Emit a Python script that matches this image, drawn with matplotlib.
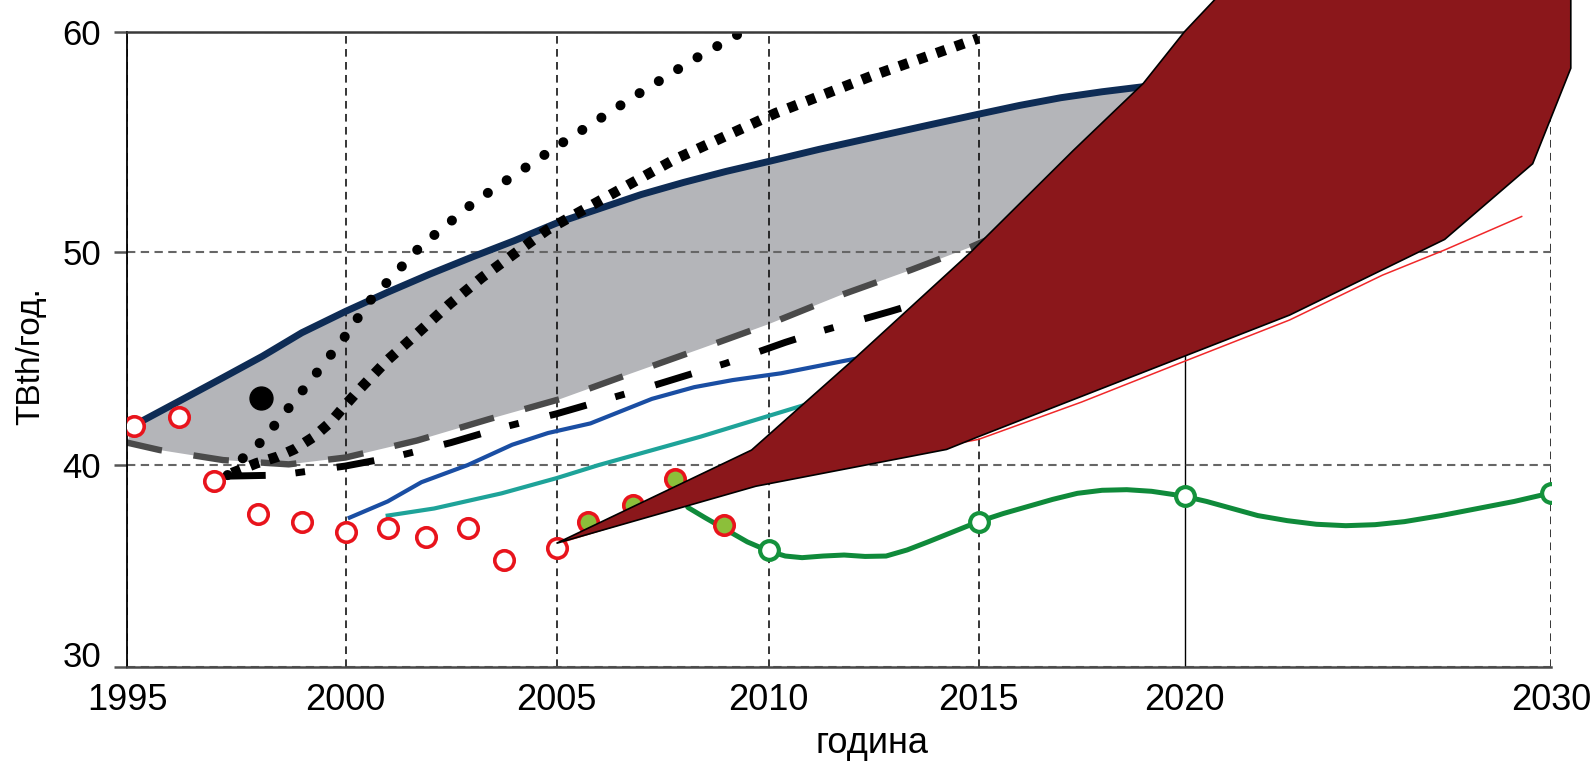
import numpy as np
import matplotlib.pyplot as plt

plt.rcParams['font.family'] = ['Liberation Sans', 'DejaVu Sans']

# the printed axes are not evenly spaced, so map years / values piecewise
x_years = [1990, 1995, 2000, 2005, 2010, 2015, 2020, 2030, 2040]
x_pos = [-91.5, 127, 345.5, 556.5, 768.5, 978.5, 1184.5, 1551, 1917.5]
y_vals = [20, 30, 40, 50, 60, 70]
y_pos = [-105.6, 96.7, 299, 512.3, 732.3, 952.3]

x_ticks = [1995, 2000, 2005, 2010, 2015, 2020, 2030]
y_ticks = [30, 40, 50, 60]

# historic consumption
hist_years = [1995.15, 1996.2, 1997.0, 1998.0, 1999.0, 2000.0, 2001.0, 2001.9, 2002.9, 2003.75, 2005.0]
hist_vals = [41.85, 42.25, 39.2, 37.6, 37.2, 36.7, 36.9, 36.45, 36.9, 35.3, 35.9]
recent_years = [2005.75, 2006.8, 2007.8, 2008.95]
recent_vals = [37.2, 38.0, 39.3, 37.05]
single_year = [1998.07]
single_val = [43.13]

# grey band: upper (navy) and lower (dashed) bounds
upper_years = [1995.15, 1996.2, 1997.2, 1998.1, 1999.0, 2000.0, 2001.0, 2002.0, 2003.0, 2004.0, 2005.0,
               2006.0, 2007.0, 2008.0, 2009.0, 2010.0, 2011.2, 2012.5, 2013.8, 2015.0, 2016.0, 2017.0,
               2018.0, 2019.0, 2020.5]
upper_vals = [41.85, 43.0, 44.1, 45.1, 46.2, 47.2, 48.1, 48.95, 49.75, 50.5, 51.3,
              51.95, 52.6, 53.15, 53.65, 54.1, 54.65, 55.2, 55.75, 56.25, 56.65, 57.0,
              57.27, 57.5, 57.8]
lower_years = [1995.0, 1995.75, 1997.2, 1998.7, 2000.0, 2001.7, 2003.4, 2005.1, 2006.7, 2008.4, 2010.0,
               2011.7, 2013.4, 2014.8, 2017.0, 2019.5]
lower_vals = [41.05, 40.7, 40.23, 40.03, 40.35, 41.15, 42.15, 43.1, 44.25, 45.45, 46.6,
              47.95, 49.15, 50.2, 52.0, 54.0]

# older forecasts
dotA_years = [1997.3, 1997.66, 1998.07, 1998.71, 1999.32, 1999.92, 2000.56, 2001.77, 2003.06, 2005.17,
              2006.87, 2008.2, 2009.3]
dotA_vals = [39.5, 40.34, 41.09, 42.7, 44.27, 45.83, 47.66, 50.23, 52.27, 54.99,
             57.1, 58.7, 59.9]
dotB_years = [1997.4, 1997.96, 1998.45, 1998.84, 1999.28, 1999.67, 1999.98, 2000.3, 2000.98, 2001.72,
              2002.47, 2003.24, 2004.01, 2004.78, 2006.05, 2007.76, 2010.16, 2012.46, 2015.0]
dotB_vals = [39.6, 40.08, 40.39, 40.75, 41.33, 42.03, 42.77, 43.48, 44.89, 46.2,
             47.55, 48.8, 49.92, 50.99, 52.35, 54.17, 56.29, 57.99, 59.7]
dd_years = [1997.3, 1998.5, 2000.0, 2001.2, 2002.5, 2003.7, 2005.0, 2007.0, 2009.0, 2010.4, 2011.2,
            2012.9, 2014.0]
dd_vals = [39.45, 39.5, 39.95, 40.4, 41.05, 41.75, 42.4, 43.55, 44.77, 45.75, 46.25,
           47.2, 47.85]
blue_years = [2000.1, 2001.0, 2001.8, 2002.9, 2003.95, 2004.8, 2005.8, 2007.25, 2008.25, 2009.15,
              2010.3, 2011.85, 2012.4]
blue_vals = [37.4, 38.2, 39.15, 40.0, 40.95, 41.5, 41.95, 43.1, 43.65, 43.98,
             44.3, 44.9, 45.1]
teal_years = [2001.0, 2002.1, 2003.7, 2005.0, 2006.0, 2008.4, 2010.6, 2011.0]
teal_vals = [37.5, 37.85, 38.6, 39.35, 40.0, 41.33, 42.66, 42.9]

# newer forecast
red_years = [2005.0, 2010.0, 2015.0, 2017.5, 2019.97, 2022.87, 2025.4, 2027.1, 2029.2]
red_vals = [36.1, 39.3, 41.2, 42.95, 44.84, 46.8, 48.9, 50.08, 51.6]
green_years = [2007.8, 2008.1, 2008.5, 2009.0, 2009.5, 2010.0, 2010.4, 2010.8, 2011.3, 2011.8, 2012.3,
               2012.8, 2013.3, 2013.8, 2014.4, 2015.0, 2015.6, 2016.2, 2016.8, 2017.4, 2018.0, 2018.6,
               2019.2, 2019.7, 2020.0, 2020.6, 2021.3, 2022.0, 2022.8, 2023.6, 2024.4, 2025.2, 2026.0,
               2027.0, 2028.0, 2029.0, 2030.0]
green_vals = [39.3, 37.9, 37.4, 36.8, 36.2, 35.75, 35.5, 35.42, 35.5, 35.55, 35.48,
              35.5, 35.8, 36.2, 36.7, 37.2, 37.6, 37.95, 38.3, 38.6, 38.75, 38.78,
              38.7, 38.55, 38.45, 38.2, 37.85, 37.5, 37.25, 37.07, 37.0, 37.05, 37.2,
              37.5, 37.85, 38.2, 38.62]
green_pts_years = [2010, 2015, 2020, 2030]
green_pts_vals = [35.8, 37.2, 38.45, 38.62]

# uncertainty band of the newer forecast
band_years = [2005.0, 2009.6, 2012.0, 2014.8, 2017.3, 2019.0, 2020.0, 2021.7, 2030.54, 2030.54,
              2029.5, 2027.1, 2022.87, 2019.97, 2015.0, 2014.24, 2009.7]
band_vals = [36.13, 40.7, 44.9, 49.95, 54.6, 57.65, 60.0, 63.0, 63.0, 58.34,
             54.0, 50.56, 47.03, 45.08, 41.33, 40.73, 38.95]


def fx(v):
    return np.interp(v, x_years, x_pos)


def ix(p):
    return np.interp(p, x_pos, x_years)


def fy(v):
    return np.interp(v, y_vals, y_pos)


def iy(p):
    return np.interp(p, y_pos, y_vals)


fig = plt.figure(figsize=(15.9, 7.64), dpi=100)
ax = fig.add_axes([127 / 1590, 1 - 667.3 / 764, (1551 - 127) / 1590, (667.3 - 31.7) / 764])
ax.set_xscale('function', functions=(fx, ix))
ax.set_yscale('function', functions=(fy, iy))
ax.set_xlim(1995, 2030)
ax.set_ylim(30, 60)

# grey band
ax.fill(np.concatenate([upper_years, lower_years[::-1]]),
        np.concatenate([upper_vals, lower_vals[::-1]]),
        color='#b4b5b9', lw=0, zorder=1)
ax.plot(lower_years, lower_vals, color='#4a4a4a', lw=4.6, ls=(0, (5.6, 5.0)), zorder=2)
ax.plot(upper_years, upper_vals, color='#0e2c55', lw=5, solid_capstyle='butt',
        solid_joinstyle='round', zorder=2.1)

ax.plot(blue_years, blue_vals, color='#1a4ea3', lw=3.0, zorder=2.2)
ax.plot(teal_years, teal_vals, color='#1ea399', lw=3.0, zorder=2.2)
ax.plot(dd_years, dd_vals, color='black', lw=5, ls=(0, (5.5, 4.3, 1.4, 4.6)),
        dash_capstyle='butt', zorder=2.3)
ax.plot(dotA_years, dotA_vals, color='black', lw=7.2, ls=(0, (0.01, 2.26)),
        dash_capstyle='round', zorder=2.4)
ax.plot(dotB_years, dotB_vals, color='black', lw=7.5, ls=(0, (0.9, 1.0)),
        dash_capstyle='butt', zorder=2.4)

ax.plot(red_years, red_vals, color='#f0282a', lw=1.1, zorder=2.5)
ax.plot(green_years, green_vals, color='#0f8a3a', lw=3.6, solid_joinstyle='round', zorder=2.5)

ax.plot(hist_years, hist_vals, ls='none', marker='o', ms=14, mew=2.6,
        mfc='white', mec='#e8141c', zorder=3)
ax.plot(recent_years, recent_vals, ls='none', marker='o', ms=14, mew=2.6,
        mfc='#8cbf3a', mec='#e8141c', zorder=3)
ax.plot(single_year, single_val, ls='none', marker='o', ms=16.5, color='black', zorder=3)

ax.fill(band_years, band_vals, facecolor='#8b171b', edgecolor='black', lw=1.2,
        zorder=5, clip_on=False)

ax.plot(green_pts_years, green_pts_vals, ls='none', marker='o', ms=13.5, mew=3,
        mfc='white', mec='#14923c', zorder=6)

# axes, grid and labels
ax.set_xticks(x_ticks)
ax.set_yticks(y_ticks)
ax.set_xticklabels([str(t) for t in x_ticks])
ax.set_yticklabels([str(t) for t in y_ticks])
ax.set_axisbelow('line')
ax.xaxis.grid(True, color='black', lw=1.1, ls=(0, (5, 3.5)))
ax.yaxis.grid(True, color='#666666', lw=1.5, ls=(0, (4, 2.6)))
for t, gl in zip(x_ticks, ax.get_xgridlines()):
    if t == 2020:
        gl.set_linestyle('-')
        gl.set_linewidth(1.0)

ax.tick_params(axis='x', length=0, pad=11, labelsize=26)
ax.tick_params(axis='y', length=9.5, width=1.8, color='#555555', pad=9, labelsize=25)
# the bottom label sits on the axis line, not centred on it
ax.get_yticklabels()[0].set_verticalalignment('baseline')

ax.spines['right'].set_visible(False)
ax.spines['left'].set_color('black')
ax.spines['left'].set_linewidth(1.3)
ax.spines['top'].set_color('#3a3a3a')
ax.spines['top'].set_linewidth(1.8)
ax.spines['bottom'].set_color('#4a4a4a')
ax.spines['bottom'].set_linewidth(1.8)

fig.text(872 / 1590, 1 - 753 / 764, 'година', ha='center', va='baseline', fontsize=26)
fig.text(31 / 1590, 1 - 356.5 / 764, 'TBth/год.', ha='center', va='center',
         rotation=90, fontsize=24)

fig.savefig('out.png', dpi=100)
